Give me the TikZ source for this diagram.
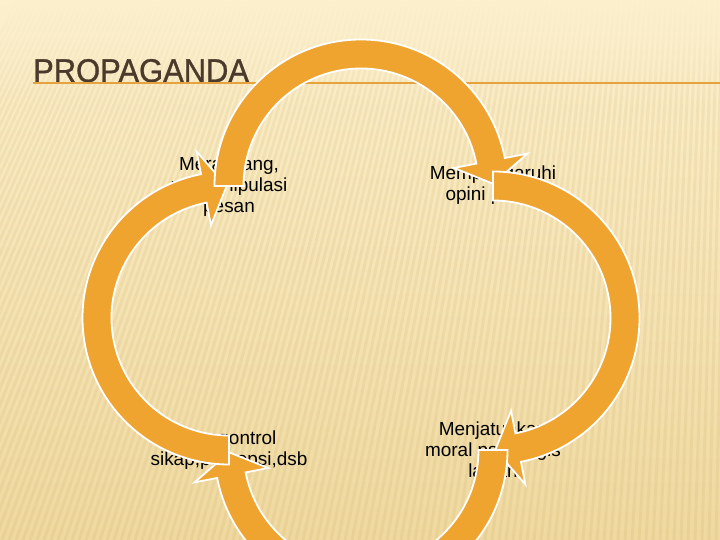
\documentclass[tikz,border=0pt]{standalone}
\usepackage{fontspec}
\setmainfont{Liberation Sans}
\newfontfamily\titlefont[FakeBold=1.0]{Liberation Sans}
\usepackage{graphicx}
\usetikzlibrary{fadings}
\definecolor{arcor}{RGB}{239,164,48}
\definecolor{bgtop}{RGB}{252,240,205}
\definecolor{bgmid}{RGB}{250,234,192}
\definecolor{bgbot}{RGB}{239,217,160}
\definecolor{stripec}{RGB}{200,165,90}
\definecolor{titlec}{RGB}{74,58,43}
\definecolor{titleline}{RGB}{230,162,60}
\tikzfading[name=fadedown, top color=transparent!0, bottom color=transparent!100]
\newcommand\cyclearrow[2]{%
  \begin{scope}[shift={(#1)}]
    \filldraw[arcst] (#2:146.5) arc[start angle=#2, delta angle=-169, radius=146.5]
      -- ({#2-169}:169.5) -- ({#2-179}:132) -- ({#2-169}:94.5) -- ({#2-169}:117.5)
      arc[start angle={#2-169}, delta angle=169, radius=117.5] -- cycle;
  \end{scope}}
\begin{document}
\begin{tikzpicture}[x=1bp,y=1bp,
  arcst/.style={fill=arcor, draw=white, line width=1.8bp, line join=miter},
  lbl/.style={align=center, font=\fontsize{19}{21}\selectfont, text=black, inner sep=0pt},
  stripe/.style={draw=stripec, line width=3bp, draw opacity=0.14}]
\useasboundingbox (0,0) rectangle (720,540);
\clip (0,0) rectangle (720,540);
\shade[top color=bgtop, middle color=bgmid, bottom color=bgbot] (0,0) rectangle (720,540);
\foreach \i in {0,...,146} \draw[stripe] (760,2040) -- ({-250+\i*7},0);
\fill[bgtop, path fading=fadedown] (0,430) rectangle (720,540);
% title
\node[anchor=base west, inner sep=0pt, text=titlec, font=\titlefont\fontsize{33}{33}\selectfont] (title) at (33,458) {\scalebox{0.94}[1]{PROPAGANDA}};
\coordinate (ls) at (33,457.3);
\coordinate (le) at (720,457.3);
\draw[titleline, line width=1.8bp] (ls) -- (le);
% texts
\node[lbl] (tl) at (229,353) {Merancang,\\memanipulasi\\pesan};
\node[lbl] (tr) at (493,355) {Mempengaruhi\\opini publik};
\node[lbl] (bl) at (229,90) {Mengontrol\\sikap,persepsi,dsb};
\node[lbl] (br) at (493,90) {Menjatuhkan\\moral psikologis\\lawan};
% arc centres
\coordinate (ctop) at (361,354);
\coordinate (cright) at (493,222);
\coordinate (cbot) at (361,90);
\coordinate (cleft) at (229,222);
\cyclearrow{ctop}{180}
\cyclearrow{cright}{90}
\cyclearrow{cbot}{0}
\cyclearrow{cleft}{270}
\begin{scope}
  \clip (175,300) rectangle (265,400);
  \cyclearrow{ctop}{180}
\end{scope}
\end{tikzpicture}
\end{document}
